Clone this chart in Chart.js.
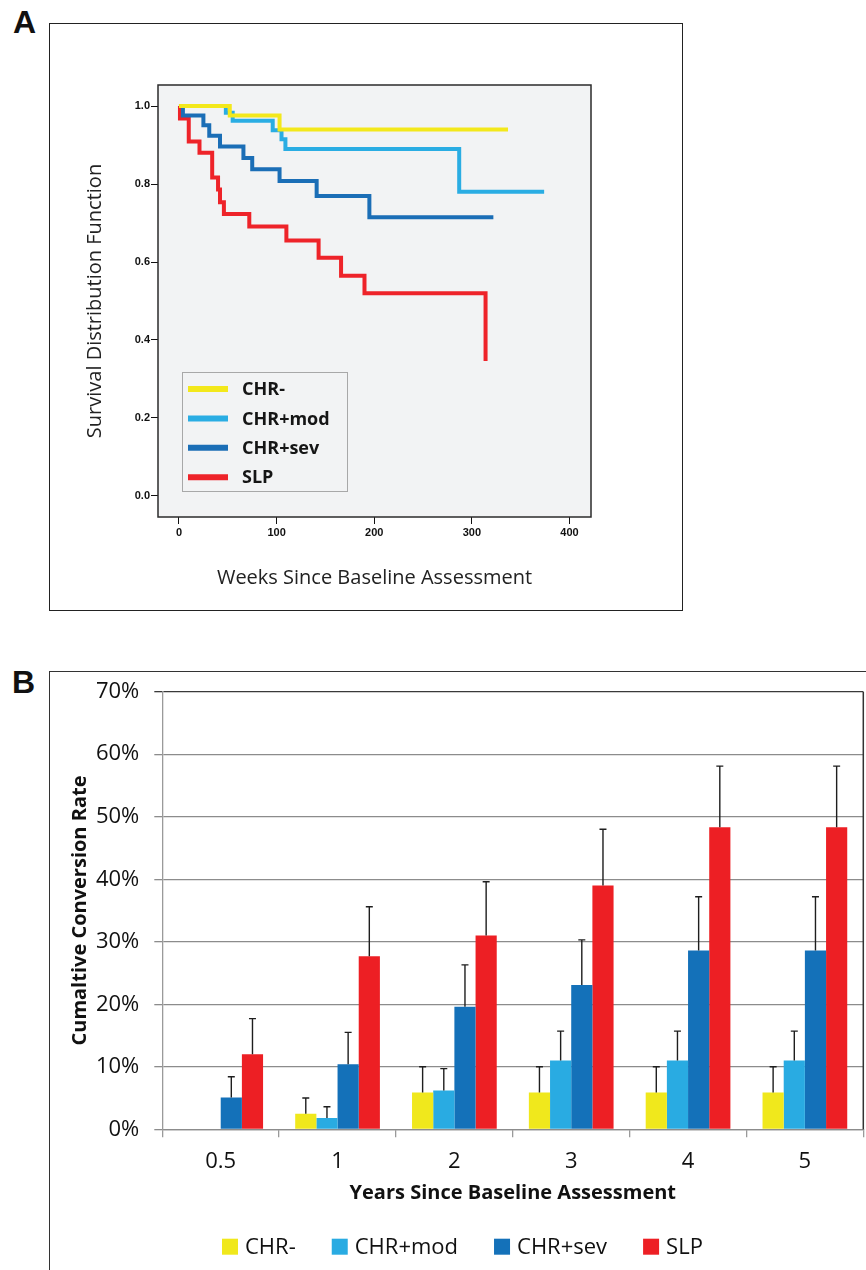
<!DOCTYPE html>
<html>
<head>
<meta charset="utf-8">
<script src="https://cdn.jsdelivr.net/npm/chart.js@4.4.0/dist/chart.umd.min.js"></script>
<style>
  body { margin: 0; width: 866px; height: 1270px; background: #fff; position: relative; overflow: hidden; font-family: "Liberation Sans", Arial, sans-serif; }
  .panel-label { position: absolute; font-weight: bold; font-size: 32px; line-height: 32px; color: #111; }
  #frameA { position: absolute; left: 49px; top: 23px; width: 632px; height: 586px; border: 1.5px solid #222; }
  #frameB { position: absolute; left: 49px; top: 671px; width: 817px; height: 599px; border-top: 1.5px solid #333; border-left: 1.5px solid #333; }
  canvas { position: absolute; left: 0; }
</style>
</head>
<body>
<div class="panel-label" style="left:13px;top:6px">A</div>
<div id="frameA"></div>
<div class="panel-label" style="left:12px;top:666px">B</div>
<div id="frameB"></div>
<canvas id="survChart" width="866" height="640" style="top:0"></canvas>
<canvas id="rateChart" width="866" height="630" style="top:640px"></canvas>
<script>
var groupNames = ["CHR-", "CHR+mod", "CHR+sev", "SLP"];
var lineColors = ["#f3e81b", "#2aade3", "#1b6eb6", "#ee2329"];
var barColors = ["#f0e81c", "#29abe2", "#1471b9", "#ed1f24"];

// panel A - survival steps (weeks, survival)
var weeksCHRneg = [0, 52, 103, 337];
var survCHRneg = [1.0, 0.976, 0.94, 0.94];
var weeksCHRmod = [0, 48, 55, 96, 105, 109, 287, 374];
var survCHRmod = [1.0, 0.983, 0.962, 0.938, 0.915, 0.89, 0.78, 0.78];
var weeksCHRsev = [0, 4, 25, 31, 42, 66, 75, 103, 141, 195, 322];
var survCHRsev = [1.0, 0.976, 0.951, 0.924, 0.896, 0.867, 0.838, 0.808, 0.769, 0.715, 0.715];
var weeksSLP = [0, 1, 10, 21, 34, 40, 42, 46, 72, 110, 143, 166, 190, 314];
var survSLP = [1.0, 0.968, 0.909, 0.88, 0.817, 0.786, 0.753, 0.723, 0.691, 0.655, 0.611, 0.565, 0.52, 0.346];
var weekTicks = [0, 100, 200, 300, 400];
var survTicks = [0, 0.2, 0.4, 0.6, 0.8, 1.0];

// panel B - cumulative conversion (%) and upper error
var yearLabels = ["0.5", "1", "2", "3", "4", "5"];
var rateCHRneg = [null, 2.5, 5.9, 5.9, 5.9, 5.9];
var rateCHRmod = [null, 1.8, 6.2, 11.0, 11.0, 11.0];
var rateCHRsev = [5.1, 10.4, 19.6, 23.1, 28.6, 28.6];
var rateSLP = [12.0, 27.7, 31.0, 39.0, 48.3, 48.3];
var errCHRneg = [null, 5.0, 10.0, 10.0, 10.0, 10.0];
var errCHRmod = [null, 3.6, 9.7, 15.7, 15.7, 15.7];
var errCHRsev = [8.4, 15.5, 26.3, 30.3, 37.2, 37.2];
var errSLP = [17.7, 35.6, 39.6, 48.0, 58.1, 58.1];
var rateTicks = [0, 10, 20, 30, 40, 50, 60, 70];

function toPoints(xs, ys) {
  return xs.map(function (x, i) { return { x: x, y: ys[i] }; });
}

var survSets = [
  toPoints(weeksCHRneg, survCHRneg),
  toPoints(weeksCHRmod, survCHRmod),
  toPoints(weeksCHRsev, survCHRsev),
  toPoints(weeksSLP, survSLP)
];

var plotBox = {
  id: "plotBox",
  beforeDraw: function (chart) {
    var a = chart.chartArea, ctx = chart.ctx;
    ctx.save();
    ctx.fillStyle = "#f2f3f4";
    ctx.fillRect(a.left, a.top, a.right - a.left, a.bottom - a.top);
    ctx.restore();
  },
  afterDatasetsDraw: function (chart) {
    var a = chart.chartArea, ctx = chart.ctx;
    ctx.save();
    ctx.strokeStyle = "#2b2b2b";
    ctx.lineWidth = 1.5;
    ctx.strokeRect(a.left, a.top, a.right - a.left, a.bottom - a.top);
    ctx.restore();
  }
};

var survLegend = {
  id: "survLegend",
  afterDraw: function (chart) {
    var ctx = chart.ctx, x = 182, y = 372, w = 165, h = 119;
    ctx.save();
    ctx.fillStyle = "#f2f3f4";
    ctx.fillRect(x, y, w, h);
    ctx.strokeStyle = "#a8a8a8";
    ctx.lineWidth = 1;
    ctx.strokeRect(x + 0.5, y + 0.5, w, h);
    ctx.font = "bold 18px 'Open Sans'";
    ctx.textBaseline = "middle";
    chart.data.datasets.forEach(function (ds, i) {
      var ry = y + 17 + i * 29.4;
      ctx.strokeStyle = ds.borderColor;
      ctx.lineWidth = 6;
      ctx.beginPath();
      ctx.moveTo(x + 6, ry);
      ctx.lineTo(x + 46, ry);
      ctx.stroke();
      ctx.fillStyle = "#151515";
      ctx.fillText(ds.label, x + 60, ry + 1);
    });
    ctx.restore();
  }
};

var survChart = new Chart(document.getElementById("survChart"), {
  type: "line",
  data: {
    datasets: survSets.map(function (pts, i) {
      return {
        label: groupNames[i],
        data: pts,
        stepped: "before",
        borderColor: lineColors[i],
        backgroundColor: lineColors[i],
        borderWidth: 4,
        pointRadius: 0,
        fill: false
      };
    })
  },
  options: {
    responsive: false,
    animation: false,
    events: [],
    layout: { padding: { left: 78.8, right: 275, top: 85, bottom: 45.8 } },
    plugins: { legend: { display: false }, tooltip: { enabled: false } },
    scales: {
      x: {
        type: "linear",
        min: -21.5,
        max: 422,
        afterBuildTicks: function (axis) { axis.ticks = weekTicks.map(function (v) { return { value: v }; }); },
        afterFit: function (axis) { axis.height = 77.2; },
        border: { display: false },
        grid: { drawOnChartArea: false, drawTicks: true, tickLength: 7, color: "#111", lineWidth: 1 },
        ticks: { padding: 2, color: "#111", font: { family: "Liberation Sans", size: 11, weight: "bold" } },
        title: { display: true, text: "Weeks Since Baseline Assessment", color: "#222", padding: { top: 4, bottom: 4 }, font: { family: "Open Sans", size: 20 } }
      },
      y: {
        type: "linear",
        min: -0.054,
        max: 1.054,
        afterBuildTicks: function (axis) { axis.ticks = survTicks.map(function (v) { return { value: v }; }); },
        afterFit: function (axis) { axis.width = 79.2; },
        border: { display: false },
        grid: { drawOnChartArea: false, drawTicks: true, tickLength: 7, color: "#111", lineWidth: 1 },
        ticks: { padding: 1, color: "#111", font: { family: "Liberation Sans", size: 11, weight: "bold" }, callback: function (v) { return v.toFixed(1); } },
        title: { display: true, text: "Survival Distribution Function", color: "#222", padding: { top: 4, bottom: 4 }, font: { family: "Open Sans", size: 20 } }
      }
    }
  },
  plugins: [plotBox, survLegend]
});

// panel B
var rateSets = [rateCHRneg, rateCHRmod, rateCHRsev, rateSLP];
var errSets = [errCHRneg, errCHRmod, errCHRsev, errSLP];

var errorBars = {
  id: "errorBars",
  afterDatasetsDraw: function (chart) {
    var ctx = chart.ctx, yScale = chart.scales.y;
    ctx.save();
    ctx.strokeStyle = "#1e1e1e";
    ctx.lineWidth = 1.4;
    errSets.forEach(function (errs, i) {
      var meta = chart.getDatasetMeta(i);
      errs.forEach(function (e, j) {
        if (e == null) return;
        var bar = meta.data[j];
        var yTop = yScale.getPixelForValue(e);
        ctx.beginPath();
        ctx.moveTo(bar.x, bar.y);
        ctx.lineTo(bar.x, yTop);
        ctx.moveTo(bar.x - 3.5, yTop);
        ctx.lineTo(bar.x + 3.5, yTop);
        ctx.stroke();
      });
    });
    ctx.restore();
  },
  afterDraw: function (chart) {
    var a = chart.chartArea, ctx = chart.ctx;
    ctx.save();
    ctx.strokeStyle = "#333";
    ctx.lineWidth = 1.5;
    ctx.beginPath();
    ctx.moveTo(a.right, a.top);
    ctx.lineTo(a.right, a.bottom);
    ctx.stroke();
    ctx.restore();
  }
};

var rateLegend = {
  id: "rateLegend",
  afterDraw: function (chart) {
    var ctx = chart.ctx, x = 222, cy = 606.7;
    ctx.save();
    ctx.font = "22px 'Open Sans'";
    ctx.textBaseline = "middle";
    chart.data.datasets.forEach(function (ds) {
      ctx.fillStyle = ds.backgroundColor;
      ctx.fillRect(x, cy - 8, 16, 16);
      ctx.fillStyle = "#111";
      ctx.fillText(ds.label, x + 23, cy + 1);
      x += 23 + ctx.measureText(ds.label).width + 36;
    });
    ctx.restore();
  }
};

var rateChart = new Chart(document.getElementById("rateChart"), {
  type: "bar",
  data: {
    labels: yearLabels,
    datasets: rateSets.map(function (vals, i) {
      return {
        label: groupNames[i],
        data: vals,
        backgroundColor: barColors[i],
        borderWidth: 0,
        categoryPercentage: 0.725,
        barPercentage: 1.0
      };
    })
  },
  options: {
    responsive: false,
    animation: false,
    events: [],
    layout: { padding: { left: 64, right: 2.7, top: 51.7, bottom: 61 } },
    plugins: { legend: { display: false }, tooltip: { enabled: false } },
    scales: {
      x: {
        afterFit: function (axis) { axis.height = 79.7; },
        border: { display: true, color: "#8c8c8c", width: 1.3 },
        grid: { drawOnChartArea: false, drawTicks: true, tickLength: 8, color: "#9a9a9a", lineWidth: 1.3 },
        ticks: { padding: 11, color: "#111", font: { family: "Open Sans", size: 22 } },
        title: { display: true, text: "Years Since Baseline Assessment", color: "#111", padding: { top: 4, bottom: 4 }, font: { family: "Open Sans", size: 20, weight: "bold" } }
      },
      y: {
        min: 0,
        max: 70,
        afterBuildTicks: function (axis) { axis.ticks = rateTicks.map(function (v) { return { value: v }; }); },
        afterFit: function (axis) { axis.width = 98.3; },
        border: { display: true, color: "#9a9a9a", width: 1.3 },
        grid: {
          drawTicks: true,
          tickLength: 8,
          lineWidth: 1.3,
          color: function (c) { return c.tick && c.tick.value === 70 ? "#3a3a3a" : "#8c8c8c"; }
        },
        ticks: { padding: 15, color: "#111", font: { family: "Open Sans", size: 22 }, callback: function (v) { return v + "%"; } },
        title: { display: true, text: "Cumaltive Conversion Rate", color: "#111", padding: { top: 4, bottom: 4 }, font: { family: "Open Sans", size: 20, weight: "bold" } }
      }
    }
  },
  plugins: [errorBars, rateLegend]
});
</script>
</body>
</html>
